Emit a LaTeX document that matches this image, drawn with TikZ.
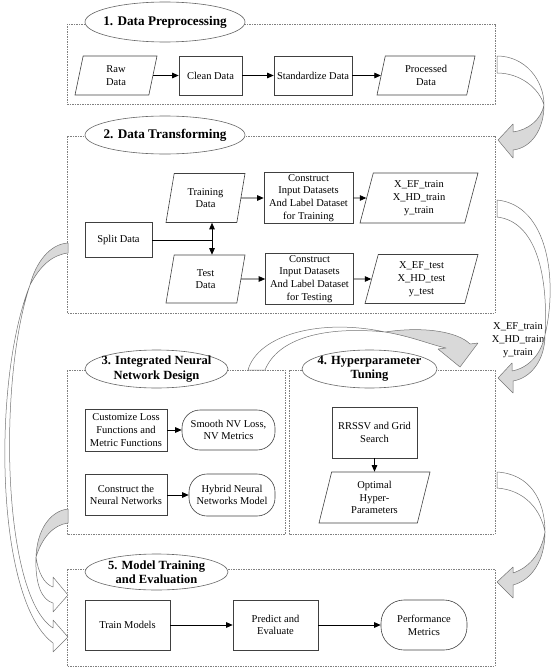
\documentclass[tikz,border=0pt]{standalone}
\usepackage{fontspec}
\setmainfont{Liberation Serif}
\usetikzlibrary{shapes.geometric,arrows.meta}

\tikzset{
  txt/.style={font=\fontsize{10.5}{12.7}\selectfont, align=center},
  procbox/.style={txt, draw=black!75, line width=0.6pt, rectangle, inner sep=2pt},
  termbox/.style={procbox, rounded corners=18pt},
  databox/.style={txt, draw=black!75, line width=0.6pt, trapezium,
    trapezium left angle=71, trapezium right angle=109,
    trapezium stretches body, inner sep=2pt},
  secbox/.style={draw=black!50, line width=0.5pt, dash pattern=on 1.5pt off 1pt},
  titlebox/.style={ellipse, draw=black!60, fill=white, line width=0.6pt, inner sep=0pt},
  titletext/.style={font=\bfseries\fontsize{12.5}{14.5}\selectfont, align=center},
  bigtitle/.style={titletext, font=\bfseries\fontsize{13.2}{15}\selectfont},
  flow/.style={-{Triangle[length=6.5pt,width=5.5pt]}, line width=0.8pt},
  ribbonw/.style={draw=black!55, fill=white, line width=0.5pt, line join=round},
  ribbong/.style={draw=black!55, fill=black!15, line width=0.5pt, line join=round}
}

\begin{document}
\begin{tikzpicture}[x=1pt,y=-1pt]
  \useasboundingbox (0,0) rectangle (550,669);

  % dashed section frames
  \draw[secbox] (67,24) rectangle (495,104);
  \draw[secbox] (67,136) rectangle (495,313);
  \draw[secbox] (67,370) rectangle (285,534);
  \draw[secbox] (289,370) rectangle (495,534);
  \draw[secbox] (67,569) rectangle (495,666);

  % section titles
  \node[titlebox, minimum width=160pt, minimum height=40pt,
    label={[bigtitle]center:{1. Data Preprocessing}}] (t1) at (165,22) {};
  \node[titlebox, minimum width=160pt, minimum height=38pt,
    label={[bigtitle]center:{2. Data Transforming}}] (t2) at (165,135) {};
  \node[titlebox, minimum width=143pt, minimum height=38pt,
    label={[titletext]center:{3. Integrated Neural\\Network Design}}] (t3) at (156.5,369) {};
  \node[titlebox, minimum width=135pt, minimum height=38pt,
    label={[titletext]center:{4. Hyperparameter\\Tuning}}] (t4) at (369.5,369) {};
  \node[titlebox, minimum width=143pt, minimum height=36pt,
    label={[titletext]center:{5. Model Training\\and Evaluation}}] (t5) at (156.5,572) {};

  % 1. data preprocessing
  \node[databox, minimum width=82pt, minimum height=39pt] (raw) at (116,75.5) {Raw\\Data};
  \node[procbox, minimum width=63pt, minimum height=39pt] (clean) at (210.5,75.5) {Clean Data};
  \node[procbox, minimum width=78pt, minimum height=39pt] (stand) at (313,75.5) {Standardize Data};
  \node[databox, minimum width=98pt, minimum height=39pt] (proc) at (426,75.5) {Processed\\Data};

  \draw[flow] (raw) -- (clean);
  \draw[flow] (clean) -- (stand);
  \draw[flow] (stand) -- (proc);

  % 2. data transforming
  \node[procbox, minimum width=67pt, minimum height=35pt] (split) at (118.5,240) {Split Data};
  \node[databox, minimum width=79pt, minimum height=49pt] (train) at (205.5,198) {Training\\Data};
  \node[procbox, minimum width=89pt, minimum height=50pt] (mktrain) at (308.5,198)
    {Construct\\Input Datasets\\And Label Dataset\\for Training};
  \node[databox, minimum width=118pt, minimum height=50pt] (xtrain) at (419,198)
    {X\_EF\_train\\X\_HD\_train\\y\_train};
  \node[databox, minimum width=79pt, minimum height=48pt] (test) at (205.5,279) {Test\\Data};
  \node[procbox, minimum width=88pt, minimum height=50pt] (mktest) at (309.5,279)
    {Construct\\Input Datasets\\And Label Dataset\\for Testing};
  \node[databox, minimum width=113pt, minimum height=49pt] (xtest) at (421.5,279)
    {X\_EF\_test\\X\_HD\_test\\y\_test};

  \coordinate (fork) at (212,240);
  \draw[line width=0.8pt] (split) -- (fork);
  \draw[{Triangle[length=6.5pt,width=5.5pt]}-{Triangle[length=6.5pt,width=5.5pt]}, line width=0.8pt]
    (fork |- train.south) -- (fork |- test.north);
  \draw[flow] (train) -- (mktrain);
  \draw[flow] (mktrain) -- (xtrain);
  \draw[flow] (test) -- (mktest);
  \draw[flow] (mktest) -- (xtest);

  % 3. integrated neural network design
  \node[procbox, minimum width=82pt, minimum height=42pt] (loss) at (126,430)
    {Customize Loss\\Functions and\\Metric Functions};
  \node[termbox, minimum width=93pt, minimum height=40pt] (nvloss) at (228.5,430)
    {Smooth NV Loss,\\NV Metrics};
  \node[procbox, minimum width=82pt, minimum height=41pt] (build) at (126,495)
    {Construct the\\Neural Networks};
  \node[termbox, minimum width=86pt, minimum height=42pt] (hybrid) at (232,495)
    {Hybrid Neural\\Networks Model};

  \draw[flow] (loss) -- (nvloss);
  \draw[flow] (build) -- (hybrid);

  % 4. hyperparameter tuning
  \node[procbox, minimum width=85pt, minimum height=51pt] (search) at (374.5,432.5)
    {RRSSV and Grid\\Search};
  \node[databox, minimum width=111pt, minimum height=51pt] (optim) at (374.5,497.5)
    {Optimal\\Hyper-\\Parameters};

  \draw[flow] (search) -- (optim);

  % 5. model training and evaluation
  \node[procbox, minimum width=85pt, minimum height=50pt] (fit) at (127.5,625) {Train Models};
  \node[procbox, minimum width=85pt, minimum height=50pt] (pred) at (275.5,625) {Predict and\\Evaluate};
  \node[termbox, rounded corners=23pt, minimum width=86pt, minimum height=50pt] (perf) at (424,625)
    {Performance\\Metrics};

  \draw[flow] (fit) -- (pred);
  \draw[flow] (pred) -- (perf);

  \node[txt] (trainlbl) at (518,340) {X\_EF\_train\\X\_HD\_train\\y\_train};

  % ribbon arrows, right side
  \filldraw[ribbonw] (497,56) .. controls (525,56) and (544,80) .. (544,105)
    .. controls (539,88) and (520,73) .. (497,73) -- cycle;
  \filldraw[ribbong] (544,105) .. controls (544,130) and (531,148) .. (513,150)
    -- (513,158) -- (498,140) -- (513,124) -- (513,132)
    .. controls (528,130) and (541,120) .. (544,105) -- cycle;

  \filldraw[ribbonw] (497,200) .. controls (548,205) and (558,280) .. (545,335)
    .. controls (548,285) and (540,222) .. (497,217) -- cycle;
  \filldraw[ribbong] (545,335) .. controls (545,360) and (531,378) .. (513,381)
    -- (513,393) -- (498,378) -- (512,363) -- (512,371)
    .. controls (528,368) and (541,355) .. (545,335) -- cycle;

  \filldraw[ribbonw] (497,472) .. controls (530,474) and (545,500) .. (545,532)
    .. controls (541,510) and (525,490) .. (497,488) -- cycle;
  \filldraw[ribbong] (545,532) .. controls (545,560) and (532,580) .. (513,585)
    -- (513,598) -- (497,582) -- (513,567) -- (513,573)
    .. controls (528,568) and (541,555) .. (545,532) -- cycle;

  % ribbon arrow from 3 to 4
  \filldraw[ribbonw] (248,370) .. controls (258,335) and (320,318) .. (385,332)
    .. controls (325,326) and (278,338) .. (265,370) -- cycle;
  \filldraw[ribbong] (385,332) .. controls (425,326) and (458,332) .. (470,344)
    -- (478,343) -- (460,367) -- (438,349) -- (446,348)
    .. controls (432,345) and (410,336) .. (385,332) -- cycle;

  % ribbon arrows, left side
  \filldraw[ribbong] (68,243) .. controls (50,244) and (36,262) .. (30,285)
    .. controls (40,266) and (52,255) .. (68,253) -- cycle;
  \filldraw[ribbonw] (30,285) .. controls (-8,380) and (-5,600) .. (53,643)
    -- (53,652) -- (68,637) -- (53,620) -- (53,628)
    .. controls (2,595) and (-2,380) .. (30,285) -- cycle;

  \filldraw[ribbong] (68,509) .. controls (50,511) and (37,530) .. (36,557)
    .. controls (42,538) and (53,525) .. (68,523) -- cycle;
  \filldraw[ribbonw] (36,557) .. controls (35,585) and (42,600) .. (53,603)
    -- (53,612) -- (68,595) -- (53,577) -- (53,587)
    .. controls (44,584) and (38,572) .. (36,557) -- cycle;
\end{tikzpicture}
\end{document}
